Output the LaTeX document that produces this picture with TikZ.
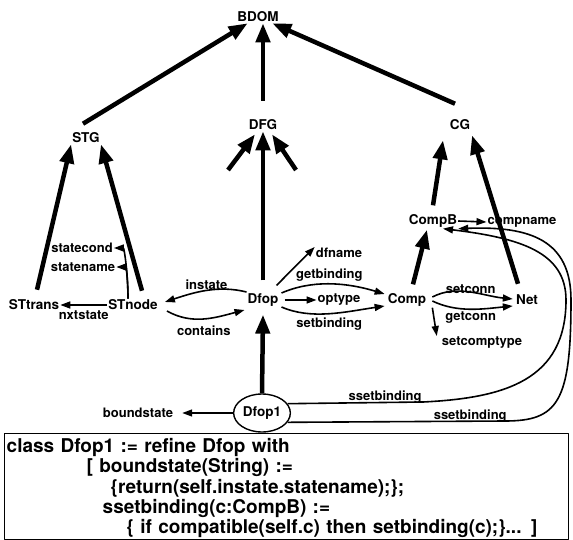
\documentclass[tikz,border=0pt]{standalone}
\usepackage{fontspec}
\setmainfont{TeX Gyre Heros}
\usetikzlibrary{arrows.meta,positioning,shapes.geometric}
\tikzset{
  bd diagram/.style={x=1pt, y=-1pt, line join=round,
    font=\bfseries\fontsize{13}{15}\selectfont},
  bd class/.style={inner sep=1pt, font=\bfseries\fontsize{13.5}{15}\selectfont},
  bd label/.style={inner sep=1pt},
  bd inst/.style={bd class, draw, ellipse, line width=1.4pt,
    minimum width=54pt, minimum height=38pt},
  bd isa/.style={-{Triangle[length=19pt,width=14pt]}, line width=4.5pt},
  bd attr/.style={-{Triangle[length=10pt,width=7pt]}, line width=1.6pt},
  bd code/.style={draw, line width=1.4pt, align=left, inner xsep=2pt, inner ysep=2pt,
    text width=560pt, font=\bfseries\fontsize{19}{20.2}\selectfont}
}

\begin{document}
\begin{tikzpicture}[bd diagram]
\useasboundingbox (0,0) rectangle (573,540);
% classes
\node[bd class] (BDOM) at (258,17) {BDOM};
\node[bd class] (STG) at (86,138) {STG};
\node[bd class] (DFG) at (263,125) {DFG};
\node[bd class] (CG) at (460,125) {CG};
\node[bd class] (STtrans) at (34,305) {STtrans};
\node[bd class] (STnode) at (133,305) {STnode};
\node[bd class] (Dfop) at (263,300) {Dfop};
\node[bd class] (Comp) at (407,300) {Comp};
\node[bd class] (Net) at (527,300) {Net};
\node[bd class] (CompB) at (433,221) {CompB};
\node[bd inst] (Dfop1) at (262,413) {Dfop1};
% attributes
\node[bd label] (compname) at (522,222) {compname};
\node[bd label] (dfname) at (339,253) {dfname};
\node[bd label] (optype) at (339,300) {optype};
\node[bd label] (setcomptype) at (482,343) {setcomptype};
\node[bd label] (statecond) at (82,248) {statecond};
\node[bd label] (statename) at (83,267) {statename};
\node[bd label] (boundstate) at (138,413) {boundstate};
\coordinate (dfgL) at (228,170);
\coordinate (dfgR) at (296,170);

% inheritance
\draw[bd isa] ([xshift=-3pt,yshift=8pt]STG.north) -- (BDOM);
\draw[bd isa, shorten <=18pt] (DFG.north) -- (DFG.north |- BDOM.south);
\draw[bd isa] ([xshift=-5pt,yshift=15pt]CG.north) -- (BDOM);
\draw[bd isa] ([xshift=3pt,yshift=9pt]STtrans.north) -- (STG.south west);
\draw[bd isa] ([xshift=9pt,yshift=8pt]STnode.north) -- (STG.south east);
\draw[bd isa, shorten <=12pt] (Dfop.north) -- (DFG.south);
\draw[bd isa] (dfgL) -- ([xshift=-8pt,yshift=-3pt]DFG.south);
\draw[bd isa] (dfgR) -- ([xshift=9pt,yshift=-3pt]DFG.south);
\draw[bd isa] ([yshift=8pt]CompB.north) -- ([xshift=-17pt,yshift=-9pt]CG.south);
\draw[bd isa] ([xshift=-9pt,yshift=10pt]Net.north) -- ([xshift=12pt,yshift=-4pt]CG.south);
\draw[bd isa] ([xshift=6pt,yshift=8pt]Comp.north) -- ([xshift=-6pt,yshift=-1pt]CompB.south);
\draw[bd isa] (Dfop1.north) -- ([yshift=-7pt]Dfop.south);

% attribute links
\draw[bd attr] (STnode.west) -- (STtrans.east)
  node[midway, below=4pt, bd label] (nxtstate) {nxtstate};
\draw[bd attr] ([xshift=-5pt]STnode.north) .. controls +(0,-28) and +(10,0) .. (statecond.east);
\draw[bd attr] ([xshift=-5pt]STnode.north) .. controls +(0,-15) and +(10,0) .. (statename.east);
\draw[bd attr] ([yshift=8pt]Dfop.west) .. controls +(-28,-7) and +(30,-10) .. ([xshift=6pt,yshift=3pt]STnode.east)
  node[midway, above=-1pt, bd label] (instate) {instate};
\draw[bd attr] ([xshift=8pt,yshift=-6pt]STnode.east) .. controls +(25,14) and +(-30,8) .. ([xshift=-2pt,yshift=-10pt]Dfop.west)
  node[midway, below=5pt, bd label] (contains) {contains};
\draw[bd attr] ([xshift=-3pt,yshift=7pt]Dfop.north east) -- (dfname.north west);
\draw[bd attr] ([xshift=2pt,yshift=7pt]Dfop.east) .. controls +(30,-13) and +(-40,-12) .. ([xshift=-2pt,yshift=6pt]Comp.west)
  node[midway, above=1pt, bd label] (getbinding) {getbinding};
\draw[bd attr] ([xshift=5pt]Dfop.east) -- (optype.west);
\draw[bd attr] ([xshift=2pt,yshift=-7pt]Dfop.east) .. controls +(30,13) and +(-40,6) .. ([xshift=-2pt,yshift=-6pt]Comp.west)
  node[midway, below=2pt, bd label] (setbinding) {setbinding};
\draw[bd attr] ([xshift=5pt,yshift=3pt]Comp.east) .. controls +(25,-13) and +(-30,-3) .. ([xshift=-2pt,yshift=1pt]Net.west)
  node[midway, above=-3pt, bd label] (setconn) {setconn};
\draw[bd attr] ([xshift=5pt,yshift=-1pt]Comp.east) .. controls +(25,12) and +(-30,3) .. ([xshift=-2pt,yshift=-6pt]Net.west)
  node[midway, below=1pt, bd label] (getconn) {getconn};
\draw[bd attr] ([xshift=5pt]Comp.south east) -- ([xshift=-4pt]setcomptype.north west);
\draw[bd attr] (CompB.east) -- (compname.west);
\draw[bd attr] (Dfop1.west) -- ([xshift=8pt]boundstate.east);
\draw[bd attr] (Dfop1.20) -- (423,402) node[pos=0.72, above=-3pt, bd label] (sset1) {ssetbinding}
  .. controls (505,398) and (566,380) .. (566,300)
  .. controls (566,252) and (520,238) .. ([xshift=10pt]CompB.south);
\draw[bd attr] (Dfop1.-20) -- (505,421) node[pos=0.84, above=-3pt, bd label] (sset2) {ssetbinding}
  .. controls (558,421) and (571,402) .. (571,300)
  .. controls (571,240) and (530,226) .. (CompB.south east);

% refinement code
\node[bd code, anchor=north west] (code) at (4,433) {\rule{0pt}{17pt}class Dfop1 := refine Dfop with\\
\hspace*{80pt}[ boundstate(String) :=\\
\hspace*{104pt}\{return(self.instate.statename);\};\\
\hspace*{96pt}ssetbinding(c:CompB) :=\\
\hspace*{120pt}\{ if compatible(self.c) then setbinding(c);\}... ]};
\end{tikzpicture}
\end{document}
